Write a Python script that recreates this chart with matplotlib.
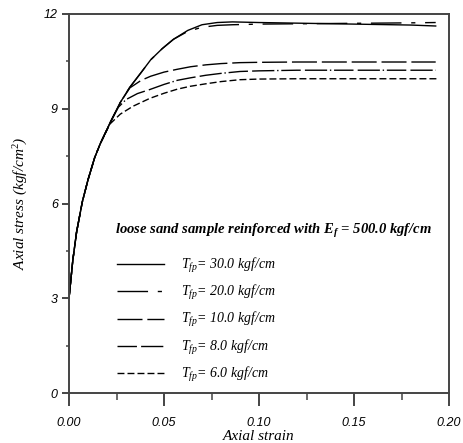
import matplotlib
matplotlib.use("Agg")
import matplotlib.pyplot as plt
from matplotlib.ticker import MultipleLocator, FormatStrFormatter

plt.rcParams['mathtext.fontset'] = 'custom'
plt.rcParams['mathtext.it'] = 'Liberation Serif:italic'
plt.rcParams['mathtext.rm'] = 'Liberation Serif'
plt.rcParams['mathtext.bf'] = 'Liberation Serif:italic:bold'

# curves (axial strain, axial stress in kgf/cm2)
strain_30 = [0, 0.002, 0.004, 0.007, 0.010, 0.0135, 0.0165, 0.022, 0.027, 0.032, 0.038, 0.043,
             0.049, 0.055, 0.0625, 0.070, 0.078, 0.086, 0.100, 0.120, 0.140, 0.160, 0.180, 0.193]
stress_30 = [3.0, 4.2, 5.1, 6.05, 6.75, 7.45, 7.9, 8.6, 9.2, 9.68, 10.15, 10.55,
             10.9, 11.2, 11.48, 11.66, 11.73, 11.75, 11.73, 11.71, 11.69, 11.67, 11.65, 11.62]

strain_20 = [0, 0.002, 0.004, 0.007, 0.010, 0.0135, 0.0165, 0.022, 0.027, 0.032, 0.038, 0.043,
             0.049, 0.055, 0.0625, 0.070, 0.078, 0.086, 0.100, 0.120, 0.140, 0.160, 0.180, 0.193]
stress_20 = [3.0, 4.2, 5.1, 6.05, 6.75, 7.45, 7.9, 8.6, 9.2, 9.68, 10.15, 10.55,
             10.9, 11.2, 11.45, 11.58, 11.64, 11.66, 11.68, 11.69, 11.70, 11.71, 11.72, 11.73]

strain_10 = [0, 0.002, 0.004, 0.007, 0.010, 0.0135, 0.0165, 0.022, 0.027, 0.032, 0.038, 0.043,
             0.050, 0.057, 0.064, 0.072, 0.080, 0.090, 0.100, 0.120, 0.150, 0.193]
stress_10 = [3.0, 4.2, 5.1, 6.05, 6.75, 7.45, 7.9, 8.6, 9.2, 9.66, 9.9, 10.03,
             10.16, 10.25, 10.33, 10.39, 10.43, 10.46, 10.47, 10.48, 10.48, 10.48]

strain_8 = [0, 0.002, 0.004, 0.007, 0.010, 0.0135, 0.0165, 0.022, 0.026, 0.030, 0.036, 0.0426,
            0.050, 0.057, 0.064, 0.072, 0.080, 0.090, 0.100, 0.120, 0.150, 0.193]
stress_8 = [3.0, 4.2, 5.1, 6.05, 6.75, 7.45, 7.9, 8.6, 9.05, 9.29, 9.48, 9.61,
            9.77, 9.9, 9.98, 10.06, 10.12, 10.18, 10.2, 10.22, 10.22, 10.22]

strain_6 = [0, 0.002, 0.004, 0.007, 0.010, 0.0135, 0.0165, 0.0216, 0.027, 0.0337, 0.0426,
            0.050, 0.057, 0.0637, 0.072, 0.080, 0.090, 0.100, 0.120, 0.150, 0.194]
stress_6 = [3.0, 4.2, 5.1, 6.05, 6.75, 7.45, 7.9, 8.52, 8.83, 9.08, 9.33,
            9.49, 9.62, 9.71, 9.79, 9.86, 9.92, 9.94, 9.95, 9.95, 9.95]

labels = ["$T_{fp}$= 30.0 kgf/cm", "$T_{fp}$= 20.0 kgf/cm", "$T_{fp}$= 10.0 kgf/cm",
          "$T_{fp}$= 8.0 kgf/cm", "$T_{fp}$= 6.0 kgf/cm"]

fig = plt.figure(figsize=(4.63, 4.43), dpi=100)
ax = fig.add_axes([69 / 463, 50 / 443, 380 / 463, 379 / 443])

ax.plot(strain_30, stress_30, color="black", lw=1.0, label=labels[0])
ax.plot(strain_20, stress_20, color="black", lw=1.0, dashes=(22, 7, 3, 7), label=labels[1])
ax.plot(strain_10, stress_10, color="black", lw=1.0, dashes=(18, 3.5), label=labels[2])
ax.plot(strain_8, stress_8, color="black", lw=1.0, dashes=(14, 3, 16, 2, 1, 2), label=labels[3])
ax.plot(strain_6, stress_6, color="black", lw=1.0, dashes=(5, 2.2), label=labels[4])

ax.set_xlim(0, 0.2)
ax.set_ylim(0, 12)
ax.xaxis.set_major_locator(MultipleLocator(0.05))
ax.xaxis.set_minor_locator(MultipleLocator(0.025))
ax.xaxis.set_major_formatter(FormatStrFormatter('%.2f'))
ax.yaxis.set_major_locator(MultipleLocator(3))
ax.yaxis.set_minor_locator(MultipleLocator(1.5))

spine_col = "#444444"
for s in ax.spines.values():
    s.set_color(spine_col)
    s.set_linewidth(1.4)

ax.tick_params(axis="x", which="major", direction="out", length=9, width=1.4, color=spine_col, pad=8)
ax.tick_params(axis="x", which="minor", direction="out", length=5, width=1.1, color=spine_col)
ax.tick_params(axis="y", which="major", direction="out", length=5, width=1.4, color=spine_col, pad=3)
ax.tick_params(axis="y", which="minor", direction="out", length=2.5, width=1.1, color=spine_col)

for t in ax.get_xticklabels() + ax.get_yticklabels():
    t.set_fontfamily("Liberation Sans")
    t.set_fontstyle("italic")
    t.set_fontsize(9)

ax.set_xlabel("Axial strain", family="Liberation Serif", style="italic", fontsize=11, labelpad=1)
ax.set_ylabel("Axial stress (kgf/cm$^2$)", family="Liberation Serif", style="italic", fontsize=11, labelpad=10)

ax.text(0.121, 0.428, "loose sand sample reinforced with $\\mathbf{E_f}$ = 500.0 kgf/cm",
        transform=ax.transAxes, family="Liberation Serif", style="italic", weight="bold",
        fontsize=10.5, va="center", ha="left")

leg = ax.legend(loc="upper left", bbox_to_anchor=(0.125, 0.362), frameon=False,
                prop={"family": "Liberation Serif", "style": "italic", "size": 10},
                handlelength=3.45, handletextpad=1.2, labelspacing=0.6,
                borderpad=0, borderaxespad=0)

fig.savefig("out.png", dpi=100)
